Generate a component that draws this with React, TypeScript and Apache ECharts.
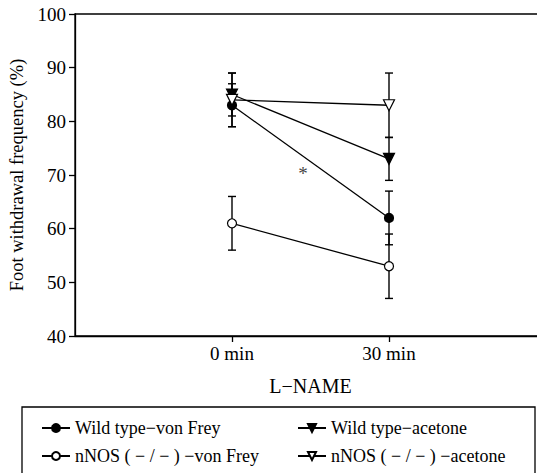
import React, { useEffect, useRef } from "react";
import * as echarts from "echarts";

const categories = ["", "0 min", "30 min", ""];
const timeIdx = [1, 2];
const wtVonFrey = [83, 62];
const wtVonFreyErr = [4, 5];
const wtAcetone = [85, 73];
const wtAcetoneErr = [4, 4];
const nnosVonFrey = [61, 53];
const nnosVonFreyErr = [5, 6];
const nnosAcetone = [84, 83];
const nnosAcetoneErr = [5, 6];
const yTicks = [40, 50, 60, 70, 80, 90, 100];

const FONT = "'Liberation Serif', 'Times New Roman', 'DejaVu Serif', serif";

export default function App() {
  const ref = useRef<HTMLDivElement>(null);
  useEffect(() => {
    const chart = echarts.init(ref.current!, null, { renderer: "svg" });
    const mk = (vals: number[]) => vals.map((v, i) => [timeIdx[i], v]);
    const errData = (vals: number[], errs: number[]) =>
      vals.map((v, i) => [timeIdx[i], v - errs[i], v + errs[i]]);
    const errSeries = (vals: number[], errs: number[]) => ({
      type: "custom",
      silent: true,
      z: 1,
      data: errData(vals, errs),
      renderItem: (params: any, api: any) => {
        const x = api.value(0);
        const lo = api.coord([x, api.value(1)]);
        const hi = api.coord([x, api.value(2)]);
        const w = 4;
        const st = { stroke: "#000", lineWidth: 1.4 };
        return {
          type: "group",
          children: [
            { type: "line", shape: { x1: lo[0], y1: lo[1], x2: hi[0], y2: hi[1] }, style: st },
            { type: "line", shape: { x1: lo[0] - w, y1: lo[1], x2: lo[0] + w, y2: lo[1] }, style: st },
            { type: "line", shape: { x1: hi[0] - w, y1: hi[1], x2: hi[0] + w, y2: hi[1] }, style: st },
          ],
        };
      },
    });
    const lineSeries = (name: string, vals: number[], symbol: string, filled: boolean, rot: number, size: number) => ({
      type: "line",
      name,
      data: mk(vals),
      symbol,
      symbolSize: size,
      symbolRotate: rot,
      showAllSymbol: true,
      z: 3,
      lineStyle: { color: "#000", width: 1.3 },
      itemStyle: { color: filled ? "#000" : "#fff", borderColor: "#000", borderWidth: 1.2 },
    });
    const names = [
      "Wild type\u2212von Frey",
      "Wild type\u2212acetone",
      "nNOS ( \u2212 / \u2212 ) \u2212von Frey",
      "nNOS ( \u2212 / \u2212 ) \u2212acetone",
    ];
    const legendCommon = {
      orient: "vertical",
      top: 419,
      itemGap: 10,
      itemWidth: 28,
      itemHeight: 10,
      padding: 0,
      textStyle: { fontFamily: FONT, fontSize: 18, color: "#000" },
      selectedMode: false,
    };
    chart.setOption({
      animation: false,
      textStyle: { fontFamily: FONT, color: "#000" },
      grid: {
        left: 75, top: 14, width: 471, height: 322,
        containLabel: false, outerBoundsMode: "none",
        show: true, borderColor: "#000", borderWidth: 1.3,
      },
      xAxis: {
        type: "category",
        data: categories,
        boundaryGap: false,
        name: "L\u2212NAME",
        nameLocation: "middle",
        nameGap: 40,
        nameTextStyle: { fontFamily: FONT, fontSize: 20, color: "#000" },
        axisLine: { lineStyle: { color: "#000", width: 1.3 } },
        axisTick: { interval: (i: number) => i === 1 || i === 2, length: 6, lineStyle: { color: "#000", width: 1.3 } },
        axisLabel: { interval: 0, fontFamily: FONT, fontSize: 19, color: "#000", margin: 8 },
        splitLine: { show: false },
      },
      yAxis: {
        type: "value",
        min: yTicks[0],
        max: yTicks[yTicks.length - 1],
        interval: 10,
        name: "Foot withdrawal frequency (%)",
        nameLocation: "middle",
        nameGap: 42,
        nameTextStyle: { fontFamily: FONT, fontSize: 18.5, color: "#000" },
        axisLine: { show: true, lineStyle: { color: "#000", width: 1.3 } },
        axisTick: { show: true, length: 6, lineStyle: { color: "#000", width: 1.3 } },
        axisLabel: { fontFamily: FONT, fontSize: 19, color: "#000", margin: 9 },
        splitLine: { show: false },
      },
      legend: [
        { ...legendCommon, left: 41, data: [names[0], names[2]] },
        { ...legendCommon, left: 297, data: [names[1], names[3]] },
      ],
      graphic: [
        { type: "rect", shape: { x: 22, y: 407, width: 513, height: 80 }, style: { fill: "none", stroke: "#000", lineWidth: 1.3 } },
        { type: "text", x: 303, y: 173, style: { text: "*", font: `19px ${FONT}`, fill: "#444", align: "center", verticalAlign: "middle" } },
      ],
      series: [
        errSeries(wtVonFrey, wtVonFreyErr),
        errSeries(wtAcetone, wtAcetoneErr),
        errSeries(nnosVonFrey, nnosVonFreyErr),
        errSeries(nnosAcetone, nnosAcetoneErr),
        lineSeries(names[0], wtVonFrey, "circle", true, 0, 9),
        lineSeries(names[1], wtAcetone, "triangle", true, 180, 11),
        lineSeries(names[2], nnosVonFrey, "circle", false, 0, 9),
        lineSeries(names[3], nnosAcetone, "triangle", false, 180, 11),
      ],
    });
    return () => chart.dispose();
  }, []);
  return <div ref={ref} style={{ width: 537, height: 473, position: "absolute", left: 0, top: 0 }} />;
}
